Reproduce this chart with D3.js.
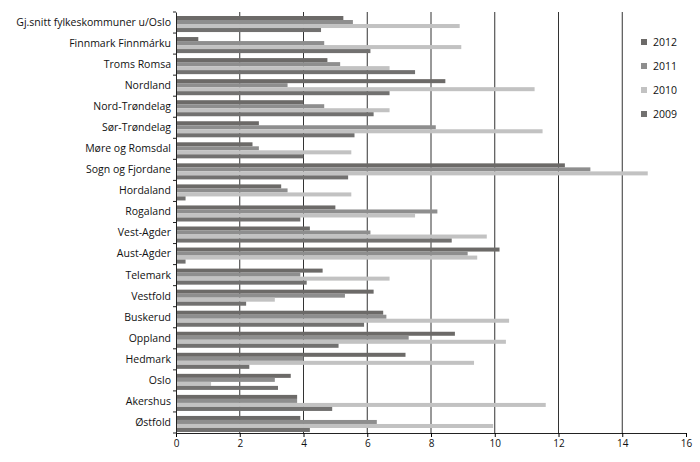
<!DOCTYPE html>
<html><head><meta charset="utf-8">
<script src="https://cdn.jsdelivr.net/npm/d3@7"></script>
<style>body{margin:0;background:#fff}text{font-family:"Open Sans",Lato,sans-serif}</style>
</head><body><div id="chart"></div>
<script>
// categories top to bottom
const regions = ['Gj.snitt fylkeskommuner u/Oslo','Finnmark Finnmárku','Troms Romsa','Nordland','Nord-Trøndelag','Sør-Trøndelag','Møre og Romsdal','Sogn og Fjordane','Hordaland','Rogaland','Vest-Agder','Aust-Agder','Telemark','Vestfold','Buskerud','Oppland','Hedmark','Oslo','Akershus','Østfold'];
const years = ['2012','2011','2010','2009'];
const v2012 = [5.25,0.7,4.75,8.45,4.0,2.6,2.4,12.2,3.3,5.0,4.2,10.15,4.6,6.2,6.5,8.75,7.2,3.6,3.8,3.9];
const v2011 = [5.55,4.65,5.15,3.5,4.65,8.15,2.6,13.0,3.5,8.2,6.1,9.15,3.9,5.3,6.6,7.3,4.0,3.1,3.8,6.3];
const v2010 = [8.9,8.95,6.7,11.25,6.7,11.5,5.5,14.8,5.5,7.5,9.75,9.45,6.7,3.1,10.45,10.35,9.35,1.1,11.6,9.95];
const v2009 = [4.55,6.1,7.5,6.7,6.2,5.6,4.0,5.4,0.3,3.9,8.65,0.3,4.1,2.2,5.9,5.1,2.3,3.2,4.9,4.2];
const xTicks = [0,2,4,6,8,10,12,14,16];
const colors = {'2012':'#6c6a68','2011':'#8e8e8e','2010':'#c2c2c2','2009':'#727170'};
const series = {'2012':v2012,'2011':v2011,'2010':v2010,'2009':v2009};

const W = 700, H = 462;
const margin = {top: 12, right: 14, bottom: 29, left: 176};
const svg = d3.select('#chart').append('svg').attr('width', W).attr('height', H);
const g = svg.append('g').attr('transform', `translate(${margin.left},${margin.top})`);
const w = W - margin.left - margin.right, h = H - margin.top - margin.bottom;

const x = d3.scaleLinear().domain([0,16]).range([0,w]);
const y = d3.scaleBand().domain(regions).range([0,h]).paddingInner(0).paddingOuter(0);
const y1 = d3.scaleBand().domain(years).range([4,y.bandwidth()-1]).padding(0);

// grid lines
g.selectAll('.grid').data(xTicks.filter(t => t > 0 && t < 16)).join('line')
  .attr('x1', d => x(d)).attr('x2', d => x(d)).attr('y1', 0).attr('y2', h)
  .attr('stroke', '#333').attr('stroke-width', 1);

// bars
regions.forEach((r, i) => {
  years.forEach(yr => {
    g.append('rect')
      .attr('x', 0).attr('y', y(r) + y1(yr))
      .attr('width', x(series[yr][i])).attr('height', y1.bandwidth())
      .attr('fill', colors[yr]);
  });
});

// axes
const xa = g.append('g').attr('transform', `translate(0,${h})`)
  .call(d3.axisBottom(x).tickValues(xTicks).tickSize(4).tickSizeOuter(0));
xa.select('.domain').attr('stroke', '#222');
xa.selectAll('text').attr('font-size', 10).attr('fill', '#111');
const ya = g.append('g').call(d3.axisLeft(y).tickSize(0));
ya.select('.domain').attr('stroke', '#222');
ya.selectAll('text').attr('font-size', 10.5).attr('fill', '#111').attr('dx', -2);
g.selectAll('.ytick').data(d3.range(regions.length + 1)).join('line')
  .attr('x1', -3).attr('x2', 0)
  .attr('y1', d => d * y.step()).attr('y2', d => d * y.step()).attr('stroke', '#222');

// legend
const lg = svg.append('g').attr('transform', 'translate(641,42)');
years.forEach((yr, i) => {
  lg.append('rect').attr('x', 0).attr('y', i * 24 - 3).attr('width', 6).attr('height', 6).attr('fill', colors[yr]);
  lg.append('text').attr('x', 12).attr('y', i * 24 + 4).attr('font-size', 10.5).attr('fill', '#111').text(yr);
});
</script></body></html>
